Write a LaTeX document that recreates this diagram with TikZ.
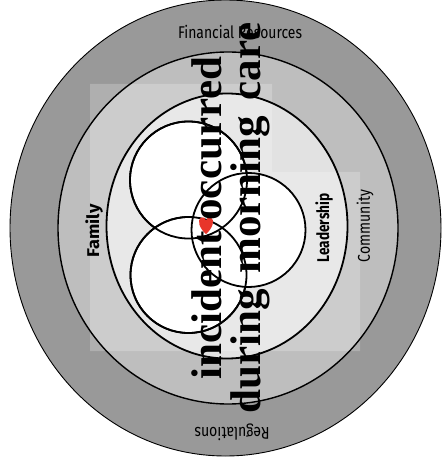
\documentclass[tikz,border=0pt]{standalone}
\usepackage{fontspec}
\setmainfont{Liberation Serif}
\newfontfamily\labfont{Fira Sans}
\usepackage{graphicx}
\definecolor{ringA}{HTML}{999999}
\definecolor{ringB}{HTML}{BEBEBE}
\definecolor{ringC}{HTML}{E2E2E2}
\definecolor{heartred}{HTML}{E8352A}
\tikzset{
  lab/.style={font=\labfont\fontsize{17}{17}\selectfont, inner sep=0pt},
  blab/.style={font=\labfont\bfseries\fontsize{17}{17}\selectfont, inner sep=0pt},
  venn/.style={draw=black, line width=1.8pt, fill=white},
  big/.style={font=\bfseries\fontsize{43}{39}\selectfont, align=center, inner sep=0pt}
}
\begin{document}
\begin{tikzpicture}[x=1pt,y=-1pt]
\useasboundingbox (0,0) rectangle (441,462);
% rings
\fill[ringA] (225.5,228) ellipse [x radius=215.5, y radius=228];
\fill[ringB] (228,228) ellipse [x radius=170, y radius=176];
\fill[ringC] (227,226) ellipse [x radius=120.5, y radius=132.5];
% translucent overlay
\fill[white, fill opacity=0.22] (90,84) -- (272,84) -- (272,172) -- (360,172) -- (360,351) -- (90,351) -- cycle;
% outlines
\draw[line width=0.9pt] (225.5,228) ellipse [x radius=215.5, y radius=228];
\draw[line width=1.4pt] (228,228) ellipse [x radius=170, y radius=176];
\draw[line width=1.8pt] (227,226) ellipse [x radius=120.5, y radius=132.5];
% venn circles
\node[venn, circle, minimum size=117pt, inner sep=0pt] (top) at (188.5,180) {};
\node[venn, circle, minimum size=116pt, inner sep=0pt] (bottom) at (188.5,275) {};
\node[venn, circle, minimum size=114pt, inner sep=0pt] (right) at (248.5,230) {};
\draw[line width=1.8pt] (188.5,180) circle [radius=58.5];
\draw[line width=1.8pt] (188.5,275) circle [radius=58];
% heart
\fill[heartred] (206,234) .. controls (199,228) and (197,220) .. (201,217.5) .. controls (203.5,216.5) and (205.5,218) .. (206,220.5) .. controls (206.5,218) and (208.5,216.5) .. (211,217.5) .. controls (215,220) and (213,228) .. (206,234);
% labels
\node[lab] (fin) at (240,32) {\resizebox{124pt}{\height}{Financial Resources}};
\node[lab, rotate=180] (reg) at (232,432) {\resizebox{75pt}{\height}{Regulations}};
\node[lab, rotate=90] (com) at (365,226) {\resizebox{72pt}{\height}{Community}};
\node[blab, rotate=90] (lead) at (324,228) {\resizebox{69pt}{\height}{Leadership}};
\node[blab, rotate=90] (fam) at (94,231) {\resizebox{53pt}{\height}{Family}};
% big text
\node[big, rotate=90] (incident) at (231,218) {incident occurred\\during\hspace{5pt} morning\hspace{5pt} care};
\end{tikzpicture}
\end{document}
